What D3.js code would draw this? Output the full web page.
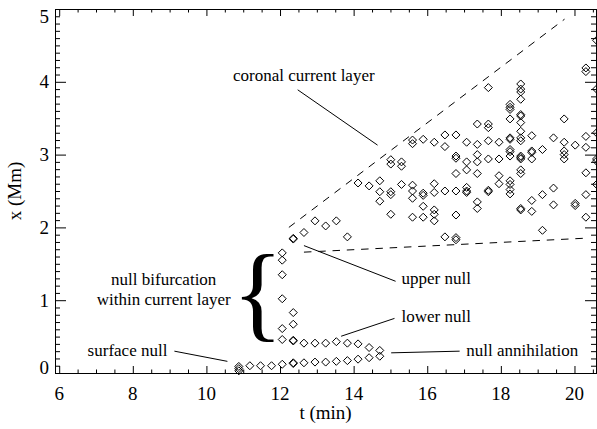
<!DOCTYPE html>
<html><head><meta charset="utf-8">
<script src="https://cdn.jsdelivr.net/npm/d3@7"></script>
<style>
body{margin:0;background:#fff}
svg{display:block}
text{font-family:"Liberation Serif","Times New Roman",serif;fill:#000}
</style>
</head><body><svg id="c" width="597" height="429"></svg>
<script>
// Time of each snapshot (min)
const times = [10.88,11.18,11.47,11.77,12.06,12.36,12.65,12.95,13.24,13.53,13.83,14.12,14.42,14.71,
  15.01,15.30,15.60,15.89,16.19,16.48,16.78,17.07,17.36,17.66,17.95,18.25,18.54,18.84,19.13,19.43,19.72,20.02,20.31,20.60];
// Null heights x (Mm) found at each snapshot
const nullPositions = [
  [0.03,0.06,0.09],
  [0.10],
  [0.10],
  [0.10],
  [0.12,0.46,0.61,1.02,1.35,1.55,1.65],
  [0.13,0.14,0.44,0.45,0.67,0.83,1.84,1.85],
  [0.14,0.41,1.93],
  [0.15,0.41,2.09],
  [0.15,0.41,2.02],
  [0.16,0.43,2.09],
  [0.17,0.41,1.87],
  [0.19,0.40,2.61],
  [0.21,0.35,2.57],
  [0.23,0.31,2.36,2.49,2.64],
  [2.18,2.45,2.49,2.87,2.93],
  [2.59,2.84,2.90],
  [2.14,2.40,2.50,2.58,3.15,3.20],
  [2.14,2.29,2.44,2.47,3.21],
  [2.09,2.18,2.24,2.48,2.60,3.17],
  [1.87,2.50,3.11,3.27],
  [1.83,1.86,2.17,2.50,2.74,2.95,2.98,3.27],
  [2.48,2.50,2.55,2.79,2.90,3.17],
  [2.26,2.35,2.74,2.90,3.00,3.14,3.42],
  [2.49,2.51,2.94,3.19,3.37,3.42,3.92],
  [2.60,2.71,2.94,3.17],
  [2.46,2.52,2.59,2.64,2.98,3.04,3.07,3.21,3.23,3.49,3.62,3.65,3.69],
  [2.24,2.26,2.74,2.79,2.94,2.96,2.98,3.19,3.23,3.32,3.44,3.53,3.55,3.76,3.86,3.90,3.97],
  [2.22,2.37,2.94,3.03,3.05,3.26],
  [1.96,2.45,3.07],
  [2.31,2.54,3.23],
  [2.94,3.00,3.05,3.17,3.49],
  [2.30,2.33,3.13],
  [2.14,2.45,2.75,3.10,3.25,4.14,4.19],
  [2.59,2.91,2.94,3.30,3.90,4.57]
];
const xTicks = [6,8,10,12,14,16,18,20];
const yTicks = [0,1,2,3,4,5];
const upperBoundary = [[12.24,2.00],[19.73,4.86]];
const lowerBoundary = [[12.65,1.66],[20.23,1.85]];
const annotations = [
  {text:"coronal current layer", at:[14.57,4.01], anchor:"end", line:[[12.48,3.89],[14.65,3.13]]},
  {text:"upper null", at:[15.30,1.22], anchor:"start", line:[[12.65,1.75],[15.14,1.26]]},
  {text:"lower null", at:[15.30,0.70], anchor:"start", line:[[13.66,0.505],[15.11,0.75]]},
  {text:"null annihilation", at:[17.06,0.24], anchor:"start", line:[[15.02,0.277],[16.88,0.30]]},
  {text:"surface null", at:[8.94,0.24], anchor:"end", line:[[9.13,0.30],[10.57,0.16]]}
];
const bifurcationLines = ["null bifurcation","within current layer"];
const bifurcationAt = [[8.84,1.21],[8.84,0.93]];
const braceAt = [11.39,0.62];

const svg = d3.select("#c");
const L=55, R=596, T=9, B=373;
const x = d3.scaleLinear().domain([5.886,20.585]).range([L,R]);
const y = d3.scaleLinear().domain([0,5]).range([B,T]);

const points = [];
times.forEach((t,i)=>nullPositions[i].forEach(v=>points.push([t,v])));

// axes ticks
const xMinor = d3.range(6,20.51,0.5).filter(v=>!xTicks.includes(v));
const yMinor = d3.range(0,51).map(v=>v/10).filter(v=>Math.abs(v-Math.round(v))>1e-6);
function ax(gen, pos, vals, size){
  const g = svg.append("g").attr("transform",pos)
    .call(gen.tickValues(vals).tickSize(size).tickFormat(""));
  g.select(".domain").remove();
  g.selectAll("line").attr("stroke","#000");
}
ax(d3.axisTop(x), `translate(0,${B})`, xTicks, 7);
ax(d3.axisTop(x), `translate(0,${B})`, xMinor, 3.5);
ax(d3.axisBottom(x), `translate(0,${T})`, xTicks, 7);
ax(d3.axisBottom(x), `translate(0,${T})`, xMinor, 3.5);
ax(d3.axisRight(y), `translate(${L},0)`, yTicks, 11);
ax(d3.axisRight(y), `translate(${L},0)`, yMinor, 5);
ax(d3.axisLeft(y), `translate(${R},0)`, yTicks, 11);
ax(d3.axisLeft(y), `translate(${R},0)`, yMinor, 5);
svg.append("rect").attr("x",L+0.5).attr("y",T+0.5).attr("width",R-L).attr("height",B-T)
  .attr("fill","none").attr("stroke","#000").attr("stroke-width",1);

// tick labels
svg.append("g").selectAll("text").data(xTicks).join("text")
  .attr("x",d=>x(d)).attr("y",400).attr("text-anchor","middle")
  .attr("font-size",19).text(d=>d);
svg.append("g").selectAll("text").data(yTicks).join("text")
  .attr("x",49).attr("y",d=>Math.min(Math.max(y(d),16),367)).attr("dy","0.35em")
  .attr("text-anchor","end").attr("font-size",19).text(d=>d);
svg.append("text").attr("x",(L+R)/2).attr("y",419).attr("text-anchor","middle")
  .attr("font-size",19).text("t (min)");
svg.append("text").attr("transform",`translate(20.5,${(T+B)/2}) rotate(-90)`)
  .attr("text-anchor","middle").attr("font-size",19).text("x (Mm)");

// dashed boundaries
const line = d3.line().x(d=>x(d[0])).y(d=>y(d[1]));
[upperBoundary,lowerBoundary].forEach(b=>{
  svg.append("path").attr("d",line(b)).attr("fill","none").attr("stroke","#000")
    .attr("stroke-width",1).attr("stroke-dasharray","7.5,6.8");
});

// diamonds
svg.append("g").selectAll("path").data(points).join("path")
  .attr("transform",d=>`translate(${x(d[0])},${y(d[1])})`)
  .attr("d","M0,-4L4,0L0,4L-4,0Z").attr("fill","none").attr("stroke","#000").attr("stroke-width",1);

// annotations
annotations.forEach(a=>{
  svg.append("path").attr("d",line(a.line)).attr("fill","none").attr("stroke","#000").attr("stroke-width",1);
  svg.append("text").attr("x",x(a.at[0])).attr("y",y(a.at[1])).attr("text-anchor",a.anchor)
    .attr("font-size",17).text(a.text);
});
bifurcationLines.forEach((s,i)=>{
  svg.append("text").attr("x",x(bifurcationAt[i][0])).attr("y",y(bifurcationAt[i][1]))
    .attr("text-anchor","middle").attr("font-size",17).text(s);
});
svg.append("text").attr("x",x(braceAt[0])).attr("y",y(braceAt[1])).attr("text-anchor","middle")
  .attr("font-size",106).text("{");
</script></body></html>
